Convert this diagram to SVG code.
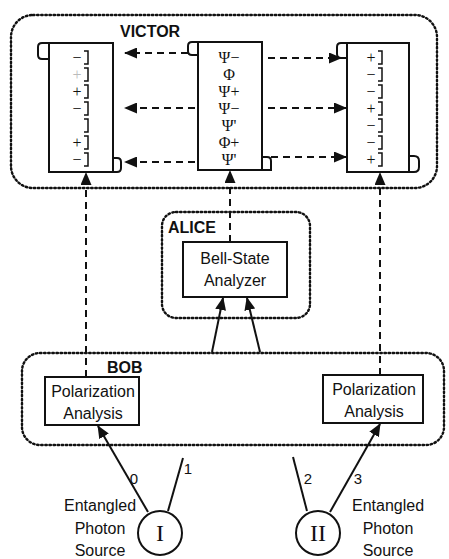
<svg xmlns="http://www.w3.org/2000/svg" width="449" height="559" viewBox="0 0 449 559">
<defs>
<marker id="ah" markerUnits="userSpaceOnUse" markerWidth="13" markerHeight="11" refX="12" refY="5.5" orient="auto"><path d="M0,0 L13,5.5 L0,11 z" fill="#111"/></marker>
</defs>
<style>
.frame{fill:none;stroke:#111;stroke-width:2.4;stroke-dasharray:1.5 2.6;stroke-linecap:round}
.box{fill:#fff;stroke:#111;stroke-width:2}
.curl{fill:none;stroke:#111;stroke-width:2}
.dash{fill:none;stroke:#111;stroke-width:2;stroke-dasharray:7 5}
.solid{fill:none;stroke:#111;stroke-width:2}
.lbl{font-family:"Liberation Sans",Arial,sans-serif;font-weight:bold;font-size:16px;fill:#111}
.txt{font-family:"Liberation Sans",Arial,sans-serif;font-size:16px;fill:#111;text-anchor:middle}
.sym{font-family:"Liberation Serif","Times New Roman",serif;font-size:16px;fill:#111;text-anchor:middle}
.faint{fill:#bbb}
.brk{fill:none;stroke:#111;stroke-width:1.5}
.num{font-family:"Liberation Sans",Arial,sans-serif;font-size:15px;fill:#111;text-anchor:middle}
.rom{font-family:"Liberation Serif","Times New Roman",serif;font-size:24px;fill:#111;text-anchor:middle}
</style>
<rect width="449" height="559" fill="#fff"/>

<g id="victor">
<rect class="frame" x="11" y="15" width="426" height="173" rx="22"/>
<text class="lbl" x="120" y="37">VICTOR</text>
</g>

<g id="alice">
<rect class="frame" x="162" y="212" width="148" height="106" rx="14"/>
<text class="lbl" x="168" y="233">ALICE</text>
</g>

<g id="bob">
<rect class="frame" x="22" y="353" width="422" height="92" rx="18"/>
<text class="lbl" x="107" y="373">BOB</text>
</g>

<g id="victor-left">
<path class="curl" d="M49,43 H42 Q38,43 38,47 V55 Q38,59 42,59 H49"/>
<path class="curl" d="M113,172 H117 Q121,172 121,168 V162 Q121,158 117,158 H113"/>
<rect class="box" x="49" y="43" width="64" height="129"/>
<path class="brk" d="M84,51h4v13h-4M84,68h4v13h-4M84,85h4v13h-4M84,102h4v13h-4M84,119h4v13h-4M84,136h4v13h-4M84,153h4v13h-4"/>
<text class="sym" x="77" y="63">−</text>
<text class="sym faint" x="77" y="80">+</text>
<text class="sym" x="77" y="97">+</text>
<text class="sym" x="77" y="114">−</text>
<text class="sym" x="77" y="148">+</text>
<text class="sym" x="77" y="165">−</text>
</g>

<g id="victor-middle">
<path class="curl" d="M198,42 H192 Q188,42 188,46 V51 Q188,55 192,55 H198"/>
<path class="curl" d="M262,170 H271 V161 Q271,157 267,157 H262"/>
<rect class="box" x="198" y="42" width="64" height="128"/>
<text class="sym" x="229" y="63">Ψ−</text>
<text class="sym" x="229" y="80">Φ</text>
<text class="sym" x="229" y="97">Ψ+</text>
<text class="sym" x="229" y="114">Ψ−</text>
<text class="sym" x="229" y="131">Ψ'</text>
<text class="sym" x="229" y="148">Φ+</text>
<text class="sym" x="229" y="165">Ψ'</text>
</g>

<g id="victor-right">
<path class="curl" d="M347,43 H341 Q337,43 337,47 V54 Q337,58 341,58 H347"/>
<path class="curl" d="M409,172 H414 Q419,172 419,167 V161 Q419,156 414,156 H409"/>
<rect class="box" x="347" y="43" width="62" height="129"/>
<path class="brk" d="M378,51h4v13h-4M378,68h4v13h-4M378,85h4v13h-4M378,102h4v13h-4M378,119h4v13h-4M378,136h4v13h-4M378,153h4v13h-4"/>
<text class="sym" x="371" y="63">+</text>
<text class="sym" x="371" y="80">−</text>
<text class="sym" x="371" y="97">−</text>
<text class="sym" x="371" y="114">+</text>
<text class="sym" x="371" y="131">−</text>
<text class="sym" x="371" y="148">−</text>
<text class="sym" x="371" y="165">+</text>
</g>

<g id="bell-state-analyzer">
<rect class="box" x="183" y="242" width="104" height="55"/>
<text class="txt" x="235" y="264">Bell-State</text>
<text class="txt" x="235" y="286">Analyzer</text>
</g>

<g id="polarization-left">
<rect class="box" x="45" y="377" width="94" height="48"/>
<text class="txt" x="93" y="397">Polarization</text>
<text class="txt" x="93" y="419">Analysis</text>
</g>

<g id="polarization-right">
<rect class="box" x="323" y="375" width="100" height="48"/>
<text class="txt" x="374" y="395">Polarization</text>
<text class="txt" x="374" y="417">Analysis</text>
</g>

<g id="source-1">
<circle class="solid" cx="160" cy="533" r="22"/>
<text class="rom" x="160" y="541">I</text>
<text class="txt" x="100" y="511" font-size="19">Entangled</text>
<text class="txt" x="100" y="534" font-size="19">Photon</text>
<text class="txt" x="100" y="556" font-size="19">Source</text>
</g>

<g id="source-2">
<circle class="solid" cx="318" cy="533" r="22"/>
<text class="rom" x="318" y="541">II</text>
<text class="txt" x="388" y="511">Entangled</text>
<text class="txt" x="388" y="534">Photon</text>
<text class="txt" x="388" y="556">Source</text>
</g>

<g id="connectors">
<path class="dash" d="M188,53 H125" marker-end="url(#ah)"/>
<path class="dash" d="M195,108 H125" marker-end="url(#ah)"/>
<path class="dash" d="M195,162 H125" marker-end="url(#ah)"/>
<path class="dash" d="M268,58 H341" marker-end="url(#ah)"/>
<path class="dash" d="M268,108 H346" marker-end="url(#ah)"/>
<path class="dash" d="M271,157 H346" marker-end="url(#ah)"/>
<path class="dash" d="M86,377 V173" marker-end="url(#ah)"/>
<path class="dash" d="M230,242 V171" marker-end="url(#ah)"/>
<path class="dash" d="M380,375 V173" marker-end="url(#ah)"/>
<path class="solid" d="M212,352 L223,298" marker-end="url(#ah)"/>
<path class="solid" d="M260,352 L247,298" marker-end="url(#ah)"/>
<path class="solid" d="M148,512 L98,426" marker-end="url(#ah)"/>
<path class="solid" d="M168,511 L183,458"/>
<path class="solid" d="M307,511 L293,457"/>
<path class="solid" d="M330,512 L380,424" marker-end="url(#ah)"/>
<text class="num" x="134" y="484">0</text>
<text class="num" x="188" y="474" font-size="11">1</text>
<text class="num" x="308" y="484">2</text>
<text class="num" x="358" y="484">3</text>
</g>
</svg>
